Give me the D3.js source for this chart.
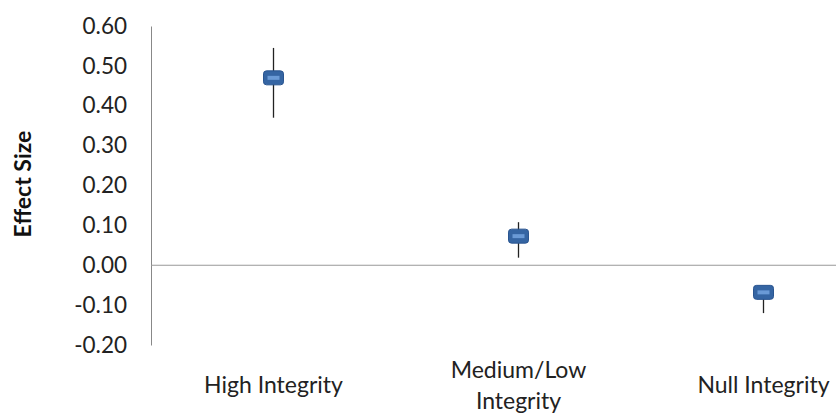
<!DOCTYPE html>
<html><head><meta charset="utf-8">
<script src="https://cdn.jsdelivr.net/npm/d3@7"></script>
<style>body{margin:0;background:#fff}svg{display:block}</style>
</head><body>
<svg id="c" width="836" height="413"></svg>
<script>
const categories = ["High Integrity", "Medium/Low Integrity", "Null Integrity"];
const categoryLines = [["High Integrity"], ["Medium/Low", "Integrity"], ["Null Integrity"]];
const effect = [0.47, 0.073, -0.068];
const lower = [0.37, 0.019, -0.12];
const upper = [0.545, 0.108, -0.055];
const yTicks = [-0.2, -0.1, 0, 0.1, 0.2, 0.3, 0.4, 0.5, 0.6];

const svg = d3.select("#c");
const font = "Lato, 'Open Sans', sans-serif";
const y = d3.scaleLinear().domain([-0.2, 0.6]).range([345, 26]);
const x = d3.scaleBand().domain(categories).range([151, 886]);

// Y axis
const fmt = d => d.toFixed(2).replace("\u2212", "-");
const yAxis = d3.axisLeft(y).tickValues(yTicks).tickSize(0).tickPadding(24).tickFormat(fmt);
const gy = svg.append("g").attr("transform", "translate(151,0)").call(yAxis);
gy.select(".domain").attr("stroke", "#888").attr("stroke-width", 1);
gy.selectAll("text").attr("font-family", font).attr("font-size", 22.5).attr("fill", "#222");

// zero line
svg.append("line").attr("x1", 151).attr("x2", 836).attr("y1", y(0)).attr("y2", y(0))
  .attr("stroke", "#999").attr("stroke-width", 1.2);

// y title
svg.append("text").attr("transform", "translate(31,184) rotate(-90)")
  .attr("text-anchor", "middle").attr("font-family", font).attr("font-weight", "bold")
  .attr("font-size", 23).attr("fill", "#111").text("Effect Size");

// error bars
const cx = d => x(d) + x.bandwidth() / 2;
svg.selectAll(".err").data(categories).enter().append("line")
  .attr("x1", cx).attr("x2", cx)
  .attr("y1", (d, i) => y(upper[i])).attr("y2", (d, i) => y(lower[i]))
  .attr("stroke", "#222").attr("stroke-width", 1.3);

// markers
const mk = svg.selectAll(".mk").data(categories).enter().append("g")
  .attr("transform", (d, i) => `translate(${cx(d)},${y(effect[i])})`);
mk.append("rect").attr("x", -10).attr("y", -7).attr("width", 20).attr("height", 14)
  .attr("rx", 3).attr("fill", "#3565a3").attr("stroke", "#2a5590").attr("stroke-width", 1);
mk.append("rect").attr("x", -6).attr("y", -2).attr("width", 12).attr("height", 4)
  .attr("fill", "#6a9ad6");

// category labels
const lab = svg.selectAll(".cl").data(categories).enter().append("text")
  .attr("text-anchor", "middle").attr("font-family", font).attr("font-size", 23).attr("fill", "#222")
  .attr("x", cx);
lab.each(function(d, i) {
  const lines = categoryLines[i];
  const t = d3.select(this);
  const y0 = lines.length === 1 ? 393 : 378;
  lines.forEach((l, j) => t.append("tspan").attr("x", cx(d)).attr("y", y0 + j * 31).text(l));
});
</script>
</body></html>
